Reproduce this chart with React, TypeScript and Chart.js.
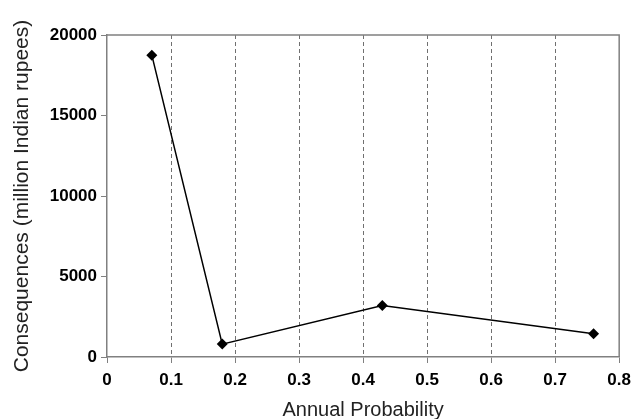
import React, { useEffect, useRef } from "react";
import { Chart, registerables } from "chart.js";
Chart.register(...registerables);

const probabilities = [0.07, 0.18, 0.43, 0.76];
const consequences = [18750, 800, 3200, 1450];
const xTicks = [0, 0.1, 0.2, 0.3, 0.4, 0.5, 0.6, 0.7, 0.8];
const yTicks = [0, 5000, 10000, 15000, 20000];
const xTitle = "Annual Probability";
const yTitle = "Consequences (million Indian rupees)";

const framePlugin = {
  id: "frame",
  afterDatasetsDraw(chart: any) {
    const { ctx, chartArea } = chart;
    ctx.save();
    ctx.strokeStyle = "#808080";
    ctx.lineWidth = 1.5;
    ctx.setLineDash([]);
    ctx.beginPath();
    ctx.moveTo(chartArea.left, chartArea.top);
    ctx.lineTo(chartArea.right, chartArea.top);
    ctx.lineTo(chartArea.right, chartArea.bottom);
    ctx.stroke();
    ctx.restore();
  },
};

export default function App() {
  const ref = useRef<HTMLCanvasElement>(null);
  useEffect(() => {
    document.body.style.margin = "0";
    const chart = new Chart(ref.current!, {
      type: "scatter",
      data: {
        datasets: [
          {
            data: probabilities.map((p, i) => ({ x: p, y: consequences[i] })),
            showLine: true,
            borderColor: "#000",
            borderWidth: 1.5,
            backgroundColor: "#000",
            pointStyle: "rectRot",
            pointRadius: 5.5,
            pointBorderWidth: 0,
          },
        ],
      },
      options: {
        animation: false,
        responsive: false,
        layout: { padding: { top: 35, right: 17, left: 0, bottom: 0 } },
        plugins: { legend: { display: false }, tooltip: { enabled: false } },
        scales: {
          x: {
            type: "linear",
            min: 0,
            max: 0.8,
            afterBuildTicks: (s: any) => {
              s.ticks = xTicks.map((v) => ({ value: v }));
            },
            afterFit: (s: any) => {
              s.height = 62;
            },
            ticks: {
              color: "#000",
              font: { family: "Liberation Sans, Arial", size: 17, weight: "bold" },
              padding: 7,
              maxRotation: 0,
              callback: (v: any) => String(v),
            },
            grid: {
              color: (c: any) =>
                c.tick && (c.tick.value === 0 || c.tick.value === 0.8) ? "rgba(0,0,0,0)" : "#707070",
              lineWidth: 1,
              tickLength: 6,
              tickColor: "#808080",
            },
            border: { display: true, color: "#808080", width: 1.5, dash: [4, 3] },
            title: {
              display: true,
              text: xTitle,
              color: "#222",
              font: { family: "Liberation Sans, Arial", size: 20 },
              padding: { top: 0, bottom: -3 },
            },
          },
          y: {
            min: 0,
            max: 20000,
            afterBuildTicks: (s: any) => {
              s.ticks = yTicks.map((v) => ({ value: v }));
            },
            afterFit: (s: any) => {
              s.width = 107;
            },
            ticks: {
              color: "#000",
              font: { family: "Liberation Sans, Arial", size: 17, weight: "bold" },
              padding: 4,
              callback: (v: any) => String(v),
            },
            grid: {
              drawOnChartArea: false,
              tickLength: 6,
              tickColor: "#808080",
            },
            border: { display: true, color: "#808080", width: 1.5 },
            title: {
              display: true,
              text: yTitle,
              color: "#222",
              font: { family: "Liberation Sans, Arial", size: 21 },
              padding: { top: 10, bottom: 0 },
            },
          },
        },
      },
      plugins: [framePlugin],
    } as any);
    return () => chart.destroy();
  }, []);
  return <canvas ref={ref} width={638} height={419} style={{ display: "block" }} />;
}
